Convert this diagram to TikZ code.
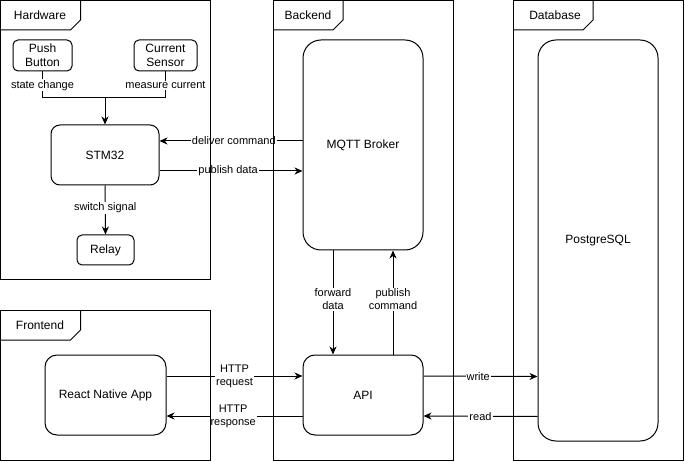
\documentclass[tikz,border=0pt]{standalone}
\usepackage{fontspec}
\setmainfont{Liberation Sans}
\usetikzlibrary{arrows.meta}
\begin{document}
\begin{tikzpicture}[x=1pt,y=-1pt,
  box/.style={draw,line width=1pt,fill=white,inner sep=0pt,align=center,font=\fontsize{12}{14}\selectfont},
  elabel/.style={fill=white,inner sep=1pt,align=center,font=\fontsize{11}{13}\selectfont},
  conn/.style={line width=1pt},
  arr/.style={conn,-{Stealth[length=8pt,width=7pt,inset=2.5pt]}},
  framebox/.style={line width=1pt},
  ftitle/.style={inner sep=0pt,font=\fontsize{12}{14}\selectfont}]
\useasboundingbox (0,0) rectangle (685,462);

% nodes
\node[box,minimum width=59pt,minimum height=31pt,rounded corners=5pt] (pb) at (42.5,55.5) {Push\\Button};
\node[box,minimum width=63pt,minimum height=31pt,rounded corners=5pt] (cs) at (165.5,55.5) {Current\\Sensor};
\node[box,minimum width=108pt,minimum height=60pt,rounded corners=9pt] (stm) at (105,155) {STM32};
\node[box,minimum width=57pt,minimum height=30pt,rounded corners=5pt] (relay) at (105.5,250) {Relay};
\node[box,minimum width=120pt,minimum height=210pt,rounded corners=18pt] (mqtt) at (363,145) {MQTT Broker};
\node[box,minimum width=120pt,minimum height=80pt,rounded corners=12pt] (api) at (363,395) {API};
\node[box,minimum width=121pt,minimum height=80pt,rounded corners=12pt] (react) at (105.5,395) {React Native App};
\node[box,minimum width=120pt,minimum height=401pt,rounded corners=18pt] (pg) at (598,240.5) {PostgreSQL};

% connectors
\coordinate (jn) at (105,98);
\draw[conn] (pb.south) |- node[elabel,pos=0.26] (l1) {state change} (jn);
\draw[conn] (cs.south) |- node[elabel,pos=0.26] (l2) {measure current} (jn);
\draw[arr] (jn) -- (stm.north);
\draw[arr] (stm.south) -- node[elabel,pos=0.46] (l3) {switch signal} (relay.north);
\draw[arr] ([yshift=4pt]mqtt.west) -- node[elabel,pos=0.48] (l4) {deliver command} ([yshift=14pt]stm.east);
\draw[arr] ([yshift=-16pt]stm.east) -- node[elabel,pos=0.48] (l5) {publish data} ([yshift=-26pt]mqtt.west);
\draw[arr] ([xshift=-30pt]mqtt.south) -- node[elabel,pos=0.47] (l6) {forward\\data} ([xshift=-30pt]api.north);
\draw[arr] ([xshift=30pt]api.north) -- node[elabel,pos=0.53] (l7) {publish\\command} ([xshift=30pt]mqtt.south);
\draw[arr] ([yshift=19pt]react.east) -- node[elabel,pos=0.5] (l8) {HTTP\\request} ([yshift=19pt]api.west);
\draw[arr] ([yshift=-21pt]api.west) -- node[elabel,pos=0.51] (l9) {HTTP\\response} ([yshift=-21pt]react.east);
\draw[arr] ([yshift=19pt]api.east) -- node[elabel,pos=0.48] (l10) {write} ([yshift=-136pt]pg.west);
\draw[arr] ([yshift=-176pt]pg.west) -- node[elabel,pos=0.5] (l11) {read} ([yshift=-21pt]api.east);

% frames
\draw[framebox] (0.5,0.5) rectangle (210,280);
\draw[framebox] (80.5,0.5) -- (80.5,20) -- (70.5,30) -- (0.5,30);
\node[ftitle] (hwt) at (40,15) {Hardware};

\draw[framebox] (0.5,310) rectangle (210,460);
\draw[framebox] (80.5,310) -- (80.5,330) -- (70.5,340) -- (0.5,340);
\node[ftitle] (fet) at (40,325) {Frontend};

\draw[framebox] (273,0.5) rectangle (453,460);
\draw[framebox] (343,0.5) -- (343,20) -- (333,30) -- (273,30);
\node[ftitle] (bet) at (308,15) {Backend};

\draw[framebox] (513,0.5) rectangle (683,460);
\draw[framebox] (593,0.5) -- (593,20) -- (583,30) -- (513,30);
\node[ftitle] (dbt) at (555,15) {Database};
\end{tikzpicture}
\end{document}
